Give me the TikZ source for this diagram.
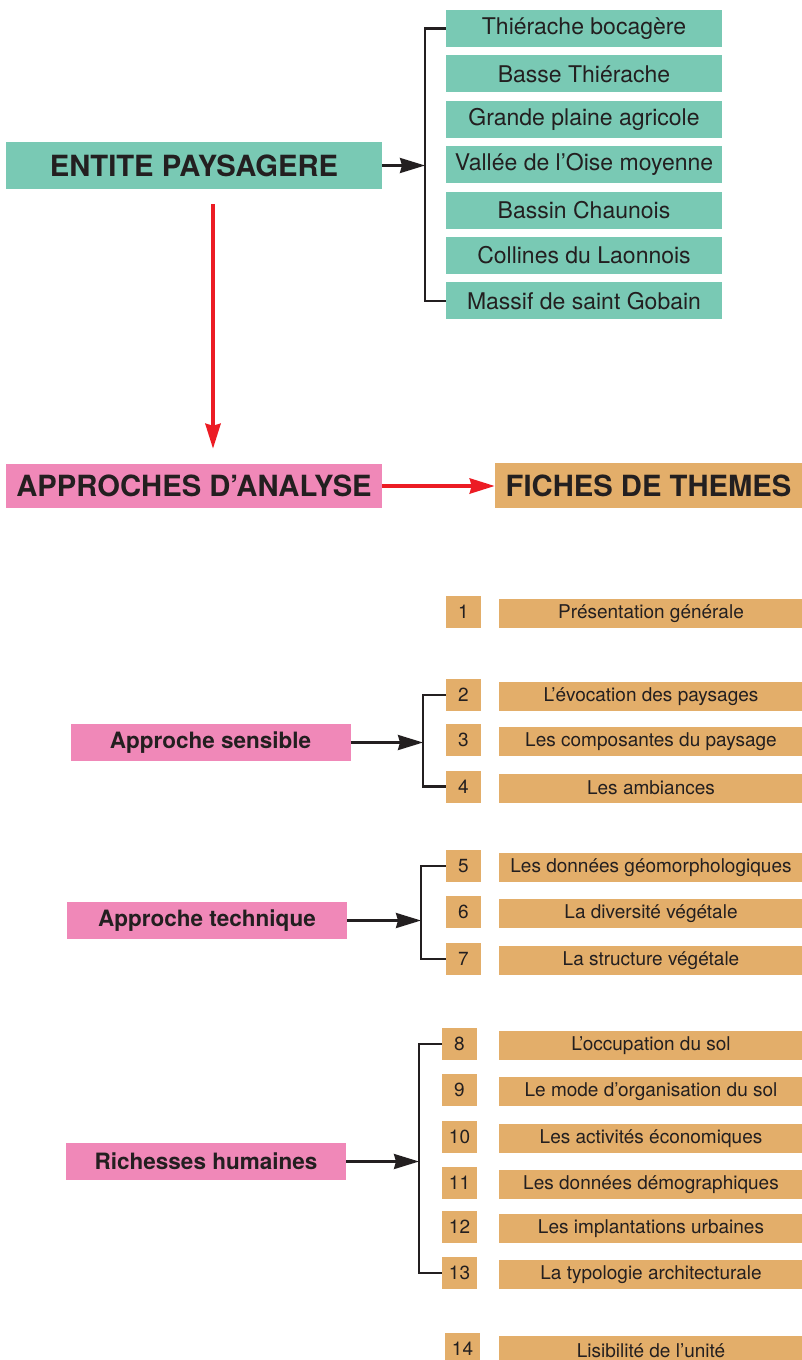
\documentclass[tikz,border=0pt]{standalone}
\usepackage{fontspec}
\setmainfont{TeX Gyre Heros}
\usepackage{xcolor}
\usetikzlibrary{arrows.meta,positioning}
\definecolor{vert}{HTML}{79C9B4}
\definecolor{rose}{HTML}{F088B8}
\definecolor{ocre}{HTML}{E3AE6A}
\definecolor{rougefl}{HTML}{EC1C24}
\definecolor{encre}{HTML}{231F20}

\begin{document}
\begin{tikzpicture}[x=1pt,y=-1pt,>=Latex,
  every node/.style={inner sep=0pt,text=encre},
  entite/.style={fill=vert,minimum width=276pt,minimum height=37pt,font=\fontsize{23}{25}\selectfont},
  titre/.style={minimum width=376pt,font=\fontsize{29.2}{31}\selectfont\bfseries},
  approche/.style={fill=rose,minimum width=280pt,minimum height=37pt,font=\fontsize{22.5}{24}\selectfont\bfseries},
  num/.style={fill=ocre,minimum width=35pt,minimum height=32pt,font=\fontsize{19}{20}\selectfont},
  fiche/.style={fill=ocre,minimum width=304pt,minimum height=29pt,font=\fontsize{19}{20}\selectfont},
  crochet/.style={draw=encre,line width=2.2pt},
  fleche/.style={crochet,line width=2.6pt,-{Stealth[length=25pt,width=15pt,inset=2pt]}},
  rouge/.style={draw=rougefl,line width=4pt,-{Stealth[length=25pt,width=15pt,inset=2pt]}}]
\useasboundingbox (0,0) rectangle (802,1360);

% entites paysageres
\node[titre,fill=vert,minimum height=47pt] (ent) at (194,165.5) {ENTITE PAYSAGERE};
\node[entite] (p1) at (584,28.5) {Thiérache bocagère};
\node[entite,below=8pt of p1] (p2) {Basse Thiérache};
\node[entite,below=8pt of p2] (p3) {Grande plaine agricole};
\node[entite,below=8pt of p3] (p4) {Vallée de l’Oise moyenne};
\node[entite,below=8pt of p4] (p5) {Bassin Chaunois};
\node[entite,below=8pt of p5] (p6) {Collines du Laonnois};
\node[entite,below=8pt of p6] (p7) {Massif de saint Gobain};
\coordinate (k1) at (425,166);
\draw[crochet] (p1.west) -| (k1) |- (p7.west);
\draw[fleche] (ent.east) -- (ent.east -| k1);

% approches et fiches
\node[titre,fill=rose,minimum height=44pt] (app) at (194,486) {APPROCHES D’ANALYSE};
\node[titre,fill=ocre,minimum width=307pt,minimum height=45pt] (fic) at (648.5,485.5) {FICHES DE THEMES};
\draw[rouge] ([xshift=19pt,yshift=-15pt]ent.south) -- ([xshift=19pt,yshift=15pt]app.north);
\draw[rouge] (app.east) -- (app.east -| fic.west);

\foreach \n/\x/\y/\t in {1/463.5/612/Présentation générale,
  2/463.5/695/L’évocation des paysages, 3/463.5/740/Les composantes du paysage,
  4/463.5/786.5/Les ambiances, 5/463.5/866/Les données géomorphologiques,
  6/463.5/912/La diversité végétale, 7/463.5/959/La structure végétale,
  8/459.5/1044/L’occupation du sol, 9/459.5/1090/Le mode d’organisation du sol,
  10/459.5/1137/Les activités économiques, 11/459.5/1183/Les données démographiques,
  12/459.5/1227/Les implantations urbaines, 13/459.5/1273/La typologie architecturale,
  14/462.5/1349/Lisibilité de l’unité}
{\node[num] (n\n) at (\x,\y) {\n};
 \node[fiche] (t\n) at (651,\y+1.5) {\t};}

\node[approche] (sens) at (210.5,742.5) {Approche sensible};
\node[approche] (tech) at (207,920.5) {Approche technique};
\node[approche] (rich) at (206,1161.5) {Richesses humaines};
\coordinate (k2) at (423,740);
\coordinate (k3) at (421,920);
\coordinate (k4) at (419,1160);
\draw[crochet] (n2.west) -| (k2) |- (n4.west);
\draw[crochet] (n5.west) -| (k3) |- (n7.west);
\draw[crochet] (n8.west) -| (k4) |- (n13.west);
\draw[fleche] (sens.east) -- (sens.east -| k2);
\draw[fleche] (tech.east) -- (tech.east -| k3);
\draw[fleche] (rich.east) -- (rich.east -| k4);
\end{tikzpicture}
\end{document}
